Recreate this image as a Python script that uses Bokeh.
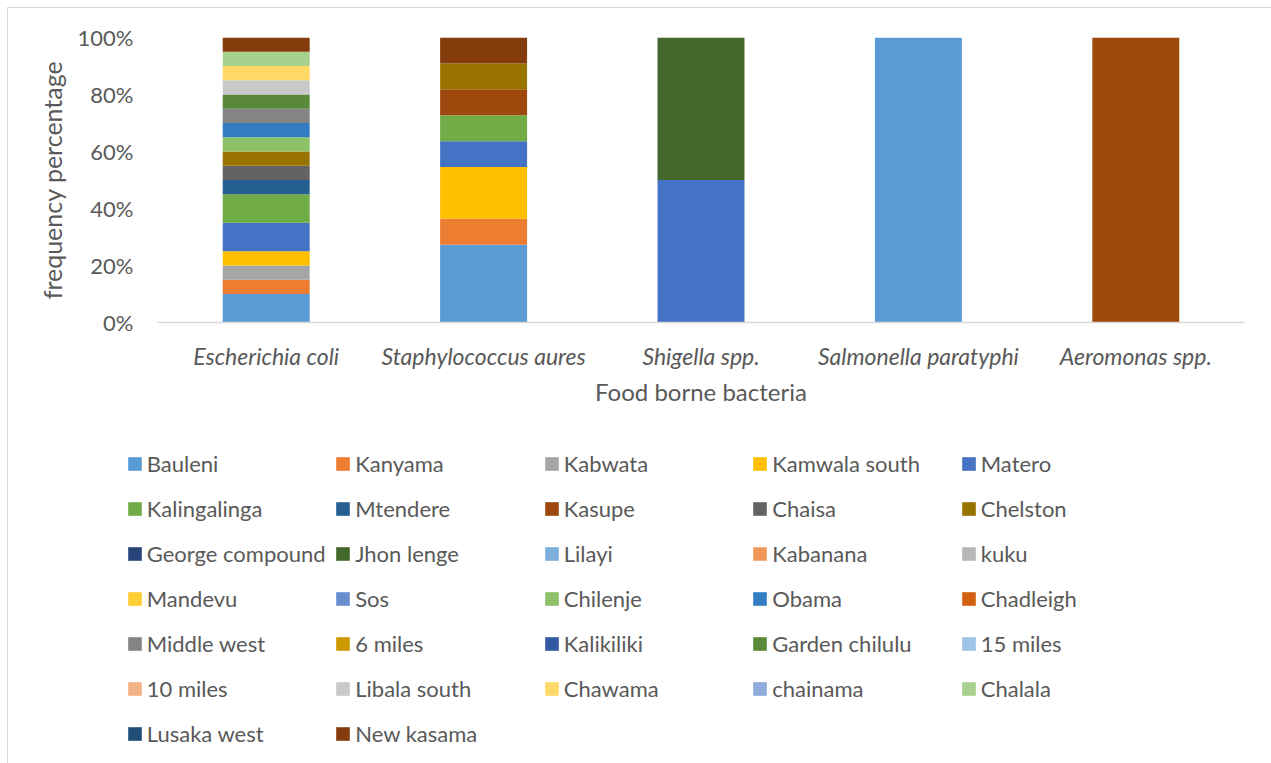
from bokeh.plotting import figure
from bokeh.layouts import column, row
from bokeh.models import ColumnDataSource, Legend, LegendItem, Range1d, FixedTicker, PrintfTickFormatter
from bokeh.embed import file_html
from bokeh.resources import INLINE

# ---------------- data ----------------
bacteria = ["Escherichia coli", "Staphylococcus aures", "Shigella spp.",
            "Salmonella paratyphi", "Aeromonas spp."]

locations = ["Bauleni", "Kanyama", "Kabwata", "Kamwala south", "Matero",
             "Kalingalinga", "Mtendere", "Kasupe", "Chaisa", "Chelston",
             "George compound", "Jhon lenge", "Lilayi", "Kabanana", "kuku",
             "Mandevu", "Sos", "Chilenje", "Obama", "Chadleigh",
             "Middle west", "6 miles", "Kalikiliki", "Garden chilulu", "15 miles",
             "10 miles", "Libala south", "Chawama", "chainama", "Chalala",
             "Lusaka west", "New kasama"]

# isolate counts per location, in the order of `bacteria`
counts = [
    [2, 3, 0, 1, 0],  # Bauleni
    [1, 1, 0, 0, 0],  # Kanyama
    [1, 0, 0, 0, 0],  # Kabwata
    [1, 2, 0, 0, 0],  # Kamwala south
    [2, 1, 1, 0, 0],  # Matero
    [2, 1, 0, 0, 0],  # Kalingalinga
    [1, 0, 0, 0, 0],  # Mtendere
    [0, 1, 0, 0, 1],  # Kasupe
    [1, 0, 0, 0, 0],  # Chaisa
    [1, 1, 0, 0, 0],  # Chelston
    [0, 0, 0, 0, 0],  # George compound
    [0, 0, 1, 0, 0],  # Jhon lenge
    [0, 0, 0, 0, 0],  # Lilayi
    [0, 0, 0, 0, 0],  # Kabanana
    [0, 0, 0, 0, 0],  # kuku
    [0, 0, 0, 0, 0],  # Mandevu
    [0, 0, 0, 0, 0],  # Sos
    [1, 0, 0, 0, 0],  # Chilenje
    [1, 0, 0, 0, 0],  # Obama
    [0, 0, 0, 0, 0],  # Chadleigh
    [1, 0, 0, 0, 0],  # Middle west
    [0, 0, 0, 0, 0],  # 6 miles
    [0, 0, 0, 0, 0],  # Kalikiliki
    [1, 0, 0, 0, 0],  # Garden chilulu
    [0, 0, 0, 0, 0],  # 15 miles
    [0, 0, 0, 0, 0],  # 10 miles
    [1, 0, 0, 0, 0],  # Libala south
    [1, 0, 0, 0, 0],  # Chawama
    [0, 0, 0, 0, 0],  # chainama
    [1, 0, 0, 0, 0],  # Chalala
    [0, 0, 0, 0, 0],  # Lusaka west
    [1, 1, 0, 0, 0],  # New kasama
]

colors = ["#5B9BD5", "#ED7D31", "#A5A5A5", "#FFC000", "#4472C4",
          "#70AD47", "#255E91", "#9E480E", "#636363", "#997300",
          "#264478", "#43682B", "#7CAFDD", "#F1975A", "#B7B7B7",
          "#FFCD33", "#698ED0", "#8CC168", "#327DC2", "#D26012",
          "#848484", "#CC9A00", "#335AA1", "#5A8A39", "#9DC3E6",
          "#F4B183", "#C9C9C9", "#FFD966", "#8FAADC", "#A9D18E",
          "#1F4E79", "#843C0C"]

y_ticks = [0, 20, 40, 60, 80, 100]

# ---------------- build ----------------
totals = [sum(c[i] for c in counts) for i in range(len(bacteria))]
data = {"bacteria": bacteria}
keys = []
for j, c in enumerate(counts):
    k = f"s{j}"
    keys.append(k)
    data[k] = [100.0 * v / t for v, t in zip(c, totals)]
source = ColumnDataSource(data)

FONT = "Lato"
GREY = "#595959"

W = 1263
H1 = 415
H2 = 340

p = figure(x_range=bacteria, y_range=Range1d(0, 100),
           width=W, height=H1, output_backend="svg", toolbar_location=None,
           min_border_left=149, min_border_right=27, min_border_top=29,
           min_border_bottom=H1 - 314)
p.outline_line_color = None
p.grid.visible = False

renderers = p.vbar_stack(keys, x="bacteria", width=0.4, source=source,
                         color=colors, line_color=None)

p.x_range.range_padding = 0
p.x_range.factor_padding = 0

# axes
p.xaxis.axis_line_color = "#D9D9D9"
p.xaxis.axis_line_width = 1.5
p.xaxis.major_tick_line_color = None
p.xaxis.minor_tick_line_color = None
p.xaxis.major_tick_out = 0
p.xaxis.major_label_text_font = FONT
p.xaxis.major_label_text_font_style = "italic"
p.xaxis.major_label_text_font_size = "23px"
p.xaxis.major_label_text_color = GREY
p.xaxis.major_label_standoff = 19
p.xaxis.axis_label = "Food borne bacteria"
p.xaxis.axis_label_text_font = FONT
p.xaxis.axis_label_text_font_style = "normal"
p.xaxis.axis_label_text_font_size = "24px"
p.xaxis.axis_label_text_color = GREY
p.xaxis.axis_label_standoff = 4

p.yaxis.ticker = FixedTicker(ticks=y_ticks)
p.yaxis.formatter = PrintfTickFormatter(format="%d%%")
p.yaxis.axis_line_color = None
p.yaxis.major_tick_line_color = None
p.yaxis.minor_tick_line_color = None
p.yaxis.major_tick_out = 0
p.yaxis.major_label_text_font = FONT
p.yaxis.major_label_text_font_size = "22px"
p.yaxis.major_label_text_color = GREY
p.yaxis.major_label_standoff = 24
p.yaxis.axis_label = "frequency percentage"
p.yaxis.axis_label_text_font = FONT
p.yaxis.axis_label_text_font_style = "normal"
p.yaxis.axis_label_text_font_size = "25px"
p.yaxis.axis_label_text_color = GREY
p.yaxis.axis_label_standoff = 8

# legend panel below the chart: 5 columns, row-major order
p2 = figure(width=W, height=H2, output_backend="svg", toolbar_location=None,
            x_range=Range1d(0, 1), y_range=Range1d(0, 1),
            x_axis_location=None, y_axis_location=None,
            min_border=0, min_border_left=0, min_border_right=0,
            min_border_top=0, min_border_bottom=0)
p2.grid.visible = False
p2.outline_line_color = None

# swatch renderers lie outside the visible range; only their legend glyphs show
swatches = [p2.vbar(x=[-5], top=[-5], bottom=[-6], width=0.1, color=c, line_color=None)
            for c in colors]

ITEM_H, GAP = 30, 15
col_x = [117.75, 326.25, 534.75, 743.25, 951.75]
top_offset = 25
for c in range(5):
    idx = list(range(c, len(locations), 5))
    items = [LegendItem(label=locations[i], renderers=[swatches[i]]) for i in idx]
    n = len(idx)
    leg_h = n * ITEM_H + (n - 1) * GAP
    leg = Legend(items=items, location=(col_x[c], H2 - top_offset - leg_h),
                 orientation="vertical", padding=0, margin=0, spacing=GAP,
                 glyph_width=17, glyph_height=17, label_height=ITEM_H,
                 label_standoff=4, border_line_color=None,
                 background_fill_alpha=0,
                 label_text_font=FONT, label_text_font_size="22px",
                 label_text_color=GREY)
    p2.add_layout(leg, "center")

layout = column(p, row(p2), spacing=0)
layout.styles = {"margin-left": "7px", "margin-top": "7px",
                 "border-left": "1.5px solid #D9D9D9", "border-top": "1.5px solid #D9D9D9"}

with open("out.html", "w") as f:
    f.write(file_html(layout, INLINE))
